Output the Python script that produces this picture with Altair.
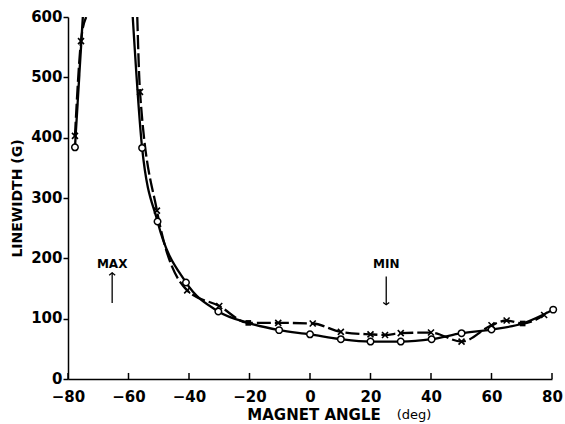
import altair as alt
import pandas as pd

# ---- data ----
circ_angle = [-77.7, -55.5, -50.4, -41.0, -30.3, -10.2, 0.0, 10.2, 20.0, 30.0, 40.2, 50.1, 60.0, 80.4]
circ_width = [384, 383, 261, 160, 112, 81, 74, 66, 62, 62, 66, 76, 82, 115]

x_angle = [-77.7, -75.7, -56.2, -50.6, -40.6, -30.0, -10.5, 0.9, 10.2, 20.0, 24.8, 30.0, 40.0, 50.1, 60.0, 65.0, 77.4]
x_width = [403, 560, 476, 279, 147, 121, 93, 92, 78, 74, 73, 76, 77, 62, 89, 97, 106]

# points shared by both runs (drawn as filled squares)
sq_angle = [-20.4, 70.3]
sq_width = [93, 92]

# where the curves leave the top of the plot
circ_exit_angle = [-75.1, -58.6]
x_exit_angle = [-74.0, -57.1]
exit_width = [600, 600]

ann_label = ["MAX", "MIN"]
ann_angle = [-65.4, 25.2]
ann_text_y = [191, 191]
arrow_from = [126, 170]
arrow_to = [176, 123]

x_ticks = [-80, -60, -40, -20, 0, 20, 40, 60, 80]
y_ticks = [0, 100, 200, 300, 400, 500, 600]

FONT = "DejaVu Sans"


def seg(a):
    return "L" if a < -70 else "R"


circ_line = pd.DataFrame({
    "angle": circ_angle + sq_angle + circ_exit_angle,
    "width": circ_width + sq_width + exit_width,
})
circ_line["seg"] = circ_line["angle"].map(seg)

x_line = pd.DataFrame({
    "angle": x_angle + sq_angle + x_exit_angle,
    "width": x_width + sq_width + exit_width,
})
x_line["seg"] = x_line["angle"].map(seg)

circ_pts = pd.DataFrame({"angle": circ_angle, "width": circ_width})
x_pts = pd.DataFrame({"angle": x_angle, "width": x_width})
sq_pts = pd.DataFrame({"angle": sq_angle, "width": sq_width})
ann = pd.DataFrame({"label": ann_label, "angle": ann_angle, "ty": ann_text_y,
                    "a0": arrow_from, "a1": arrow_to,
                    "dir": ["up", "down"]})
xt = pd.DataFrame({"t": x_ticks})

xscale = alt.Scale(domain=[-80, 80], nice=False)
yscale = alt.Scale(domain=[0, 600], nice=False)

X = alt.X("angle:Q", scale=xscale, axis=alt.Axis(
    values=x_ticks, ticks=False, grid=False, title=None, format="d",
    labelFlush=False, labelOverlap=False,
    labelFont=FONT, labelFontSize=15, labelFontWeight="bold", labelColor="black",
    labelPadding=10, domainColor="black", domainWidth=1.5))
Y = alt.Y("width:Q", scale=yscale, axis=alt.Axis(
    values=y_ticks, grid=False, title="LINEWIDTH (G)",
    labelFlush=False, labelOverlap=False,
    titleFont=FONT, titleFontSize=14, titleFontWeight="bold", titleColor="black",
    titlePadding=6,
    labelFont=FONT, labelFontSize=15, labelFontWeight="bold", labelColor="black",
    labelPadding=1, tickSize=5, tickColor="black", tickWidth=1.5,
    labelOffset=-1,
    domainColor="black", domainWidth=1.5))

solid = alt.Chart(circ_line).mark_line(
    interpolate="monotone", clip=True, color="black", strokeWidth=2.3
).encode(x=X, y=Y, detail="seg:N", order="angle:Q")

dashed = alt.Chart(x_line).mark_line(
    interpolate="monotone", clip=True, color="black", strokeWidth=2.3,
    strokeDash=[14, 4]
).encode(x="angle:Q", y="width:Q", detail="seg:N", order="angle:Q")

circles = alt.Chart(circ_pts).mark_point(
    shape="circle", filled=True, fill="white", stroke="black",
    strokeWidth=1.5, size=42, opacity=1
).encode(x="angle:Q", y="width:Q")

crosses = alt.Chart(x_pts).mark_point(
    shape="M-1,-1L1,1M-1,1L1,-1", filled=False, color="black",
    strokeWidth=1.6, size=36, opacity=1
).encode(x="angle:Q", y="width:Q")

squares = alt.Chart(sq_pts).mark_point(
    shape="square", filled=True, color="black", size=32, opacity=1
).encode(x="angle:Q", y="width:Q")

xtick_marks = alt.Chart(xt).mark_rule(color="black", strokeWidth=1.5).encode(
    x="t:Q", y=alt.datum(0), y2=alt.datum(10))

ann_text = alt.Chart(ann).mark_text(
    font=FONT, fontSize=12, fontWeight="bold", color="black"
).encode(x="angle:Q", y="ty:Q", text="label:N")

ann_rule = alt.Chart(ann).mark_rule(color="black", strokeWidth=1.3).encode(
    x="angle:Q", y="a0:Q", y2="a1:Q")

head_up = alt.Chart(ann[ann["dir"] == "up"]).mark_point(
    shape="M-1,0.8L0,0L1,0.8", filled=False, color="black",
    strokeWidth=1.3, size=36, opacity=1
).encode(x="angle:Q", y="a1:Q")

head_down = alt.Chart(ann[ann["dir"] == "down"]).mark_point(
    shape="M-1,-0.8L0,0L1,-0.8", filled=False, color="black",
    strokeWidth=1.3, size=36, opacity=1
).encode(x="angle:Q", y="a1:Q")

xtitle_main = alt.Chart(pd.DataFrame({"s": ["MAGNET ANGLE"]})).mark_text(
    font=FONT, fontSize=15, fontWeight="bold", color="black", align="center",
    baseline="middle"
).encode(x=alt.value(246), y=alt.value(398), text="s:N")

xtitle_unit = alt.Chart(pd.DataFrame({"s": ["(deg)"]})).mark_text(
    font=FONT, fontSize=13, fontWeight="normal", color="black", align="center",
    baseline="middle"
).encode(x=alt.value(346), y=alt.value(398), text="s:N")

chart = alt.layer(
    solid, dashed, xtick_marks, ann_rule, head_up, head_down, ann_text,
    circles, crosses, squares, xtitle_main, xtitle_unit
).properties(
    width=484, height=362,
    autosize=alt.AutoSizeParams(type="none"),
    padding={"left": 68, "top": 17, "right": 13, "bottom": 45},
    background="white"
).configure_view(stroke=None)

chart.save("out.html", embed_options={"renderer": "svg", "actions": False})
